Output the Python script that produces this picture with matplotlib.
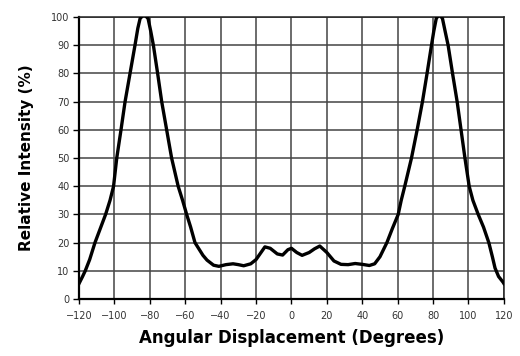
import matplotlib
matplotlib.use("Agg")
import matplotlib.pyplot as plt

# angular displacement (degrees) and relative intensity (%)
angle = [-120, -118, -116.5, -114, -111, -108, -105, -102.5, -100.5, -98.7, -96.3, -94,
         -91.2, -88.4, -86.8, -85.5, -83.3, -81, -79.5, -78, -75.6, -73.3, -70.5, -67.7, -64,
         -61.5, -59.2, -57, -54.5, -50, -47.7, -44, -41, -37, -33, -30, -27, -23, -20, -18,
         -15, -12, -8, -5, -2, 0, 3, 6, 10, 13, 16, 20, 24, 28, 32, 36, 40, 44, 47, 50, 53.9,
         57, 60.3, 62, 64, 67.8, 71, 74, 76.6, 79.1, 80.4, 81.8, 83.5, 85.3, 86.8, 88.5, 91,
         93.6, 95.8, 98, 100.4, 102.5, 105.5, 108.5, 111.5, 113.5, 115, 117, 119.5, 120]
intensity = [5.5, 8, 10, 14, 20, 25, 30, 35, 40, 50, 60, 70,
             80, 90, 96, 99.5, 101, 99.5, 95, 90, 80, 70, 60, 50, 40,
             35, 30, 25.6, 20, 15.5, 13.8, 12, 11.6, 12.2, 12.5, 12.2, 11.8, 12.5, 14, 15.8,
             18.5, 18, 16, 15.6, 17.5, 18, 16.5, 15.5, 16.5, 17.8, 18.8, 16.5, 13.5, 12.3, 12.2,
             12.6, 12.3, 11.9, 12.5, 15, 20,
             25, 30, 35, 40, 50, 60, 70, 80, 90, 95, 99.5, 101, 99.5, 95, 90, 80,
             70, 60, 50, 40, 35, 30, 25.5, 20, 15, 11, 8, 6, 5.5]

xticks = list(range(-120, 121, 20))
yticks = list(range(0, 101, 10))

fig = plt.figure(figsize=(5.2, 3.56), dpi=100)
ax = fig.add_axes([0.152, 0.160, 0.817, 0.792])

ax.plot(angle, intensity, color="black", lw=2.4, solid_joinstyle="round", zorder=3)

ax.set_xlim(-120, 120)
ax.set_ylim(0, 100)
ax.set_xticks(xticks)
ax.set_yticks(yticks)
ax.grid(True, color="#444444", lw=1.1)
ax.set_axisbelow(True)

for s in ax.spines.values():
    s.set_color("#222222")
    s.set_linewidth(1.1)
ax.spines["left"].set_linewidth(1.6)
ax.spines["bottom"].set_linewidth(1.6)
ax.spines["left"].set_color("black")
ax.spines["bottom"].set_color("black")

ax.tick_params(axis="x", length=3.5, width=1.0, pad=5, labelsize=7, labelcolor="#333333")
ax.tick_params(axis="y", length=4, width=1.0, pad=3, labelsize=7, labelcolor="#333333")

ax.set_xlabel("Angular Displacement (Degrees)", fontsize=12, fontweight="bold",
              family="DejaVu Sans", labelpad=6)
ax.set_ylabel("Relative Intensity (%)", fontsize=11, fontweight="bold",
              family="DejaVu Sans", labelpad=12)

fig.savefig("out.png", dpi=100)
